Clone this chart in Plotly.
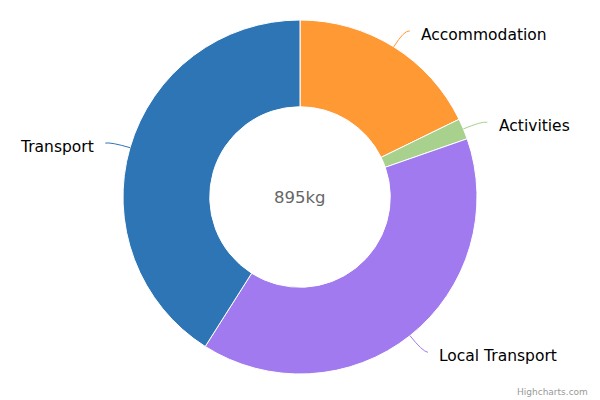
import math
import plotly.graph_objects as go

categories = ["Accommodation", "Activities", "Local Transport", "Transport"]
values = [159, 17, 352, 367]
colors = ["#FF9933", "#A9D18E", "#A07AEE", "#2E75B6"]
center_label = "895kg"

W, H = 600, 400
ML, MR, MT, MB = 0, 0, 20, 26
PW, PH = W - ML - MR, H - MT - MB
CX, CY = ML + PW / 2, MT + PH / 2
R = min(PW, PH) / 2


def to_paper(px, py):
    return (px - ML) / PW, (H - MB - py) / PH


fig = go.Figure(go.Pie(
    labels=categories, values=values, hole=0.51, sort=False,
    direction="clockwise", rotation=0,
    marker=dict(colors=colors, line=dict(color="white", width=1)),
    textinfo="none", hoverinfo="label+value", showlegend=False,
))

shapes, annotations = [], []
total = sum(values)
cum = 0
for cat, v, col in zip(categories, values, colors):
    mid = (cum + v / 2) / total * 2 * math.pi
    cum += v
    s, c = math.sin(mid), math.cos(mid)
    side = 1 if s >= 0 else -1
    ex, ey = CX + R * s, CY - R * c
    px, py = CX + (R + 20) * s, CY - (R + 20) * c
    qx, qy = px + side * 5.5, py + 1
    a = to_paper(ex, ey); b = to_paper(px, py); e = to_paper(qx, qy)
    shapes.append(dict(type="path", xref="paper", yref="paper",
                       path=f"M {a[0]},{a[1]} Q {b[0]},{b[1]} {e[0]},{e[1]}",
                       line=dict(color=col, width=1)))
    tx, ty = to_paper(px + side * 15, py + 5)
    annotations.append(dict(x=tx, y=ty, xref="paper", yref="paper", text=cat,
                            showarrow=False, xanchor="left" if side > 0 else "right",
                            yanchor="middle",
                            font=dict(size=15.5, color="#000", family="DejaVu Sans")))

cx_p, cy_p = to_paper(CX, CY)
annotations.append(dict(x=cx_p, y=cy_p, xref="paper", yref="paper", text=center_label,
                        showarrow=False, xanchor="center", yanchor="middle",
                        font=dict(size=16.5, color="#666", family="DejaVu Sans")))
crx, cry = to_paper(590, 392)
annotations.append(dict(x=crx, y=cry, xref="paper", yref="paper", text="Highcharts.com",
                        showarrow=False, xanchor="right", yanchor="middle",
                        font=dict(size=9, color="#999", family="DejaVu Sans")))

fig.update_layout(width=W, height=H, margin=dict(l=ML, r=MR, t=MT, b=MB),
                  paper_bgcolor="white", plot_bgcolor="white",
                  shapes=shapes, annotations=annotations,
                  font=dict(family="DejaVu Sans"))
fig.write_html("out.html", config={"displayModeBar": False},
               post_script="document.body.style.margin='0';")
